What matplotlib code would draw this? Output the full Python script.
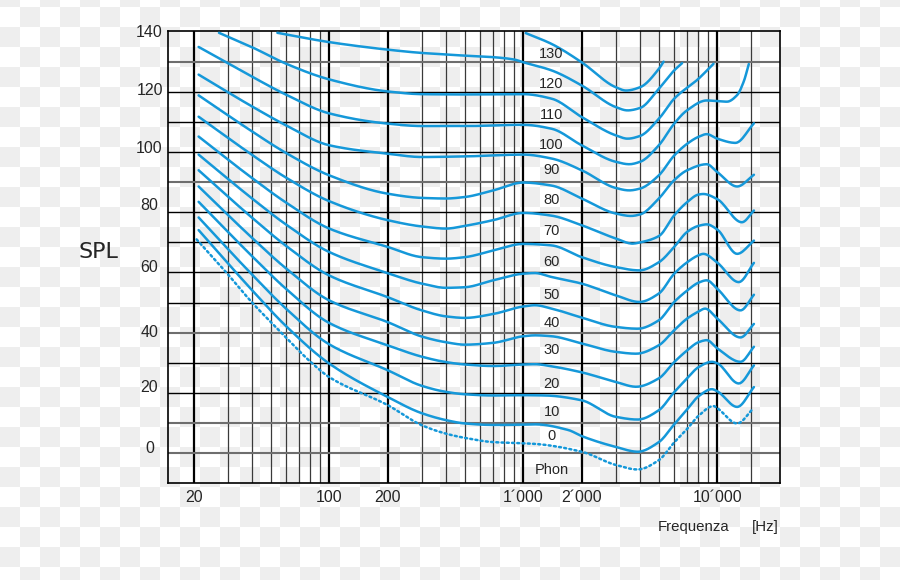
import numpy as np
import matplotlib
matplotlib.use('Agg')
import matplotlib.pyplot as plt
from matplotlib.ticker import NullLocator

plt.rcParams['font.family'] = ['Liberation Sans', 'DejaVu Sans']

# equal loudness contours (frequency in Hz, level in dB)
phon_130_hz = [1030, 1400, 2000, 3000, 3390, 4000, 5000, 5290]
phon_130_db = [139.6, 136.0, 129.9, 121.6, 120.5, 121.6, 127.7, 130.1]

phon_120_hz = [54, 100, 200, 300, 400, 500, 700, 900, 1000, 1400, 2000, 3000, 3450, 4000, 5000, 6000, 6590]
phon_120_db = [139.7, 136.6, 134.1, 133.0, 132.5, 132.1, 131.6, 130.8, 129.9, 127.2, 122.2, 115.0, 113.9, 114.7, 121.1, 127.2, 129.6]

phon_110_hz = [27, 40, 60, 100, 200, 300, 500, 1000, 1400, 2000, 3000, 3450, 4000, 5000, 6000, 8000, 9570]
phon_110_db = [139.7, 134.9, 129.4, 124.2, 120.2, 119.3, 119.2, 119.3, 117.8, 111.7, 105.6, 104.5, 105.4, 111.1, 117.8, 124.4, 129.4]

phon_100_hz = [21.2, 40, 60, 100, 200, 300, 500, 1000, 1400, 2000, 3000, 3520, 4000, 5000, 6000, 6950, 8830, 10000, 11230, 12670, 13700, 14550]
phon_100_db = [135.0, 125.1, 119.1, 112.9, 109.5, 108.7, 108.7, 109.1, 107.8, 102.3, 96.8, 96.0, 96.8, 102.3, 109.5, 113.8, 117.2, 117.0, 116.8, 119.0, 123.5, 129.3]

phon_90_hz = [21.2, 40, 60, 100, 200, 300, 500, 1000, 1400, 2000, 3000, 3520, 4000, 5000, 6000, 7000, 8000, 8830, 10000, 12410, 15460]
phon_90_db = [125.8, 115.2, 108.9, 102.3, 99.5, 98.4, 98.6, 99.2, 97.9, 94.0, 88.1, 87.3, 87.9, 92.3, 98.9, 102.8, 105.1, 106.0, 104.5, 103.1, 109.6]

phon_80_hz = [21.2, 40, 60, 100, 200, 300, 400, 500, 700, 1000, 1400, 2000, 3000, 3590, 4000, 5000, 6000, 7000, 8830, 10000, 12670, 15460]
phon_80_db = [118.9, 106.9, 99.7, 92.3, 86.2, 84.8, 84.6, 85.1, 87.3, 89.9, 88.9, 84.6, 79.6, 78.8, 79.3, 84.6, 90.7, 94.0, 96.0, 93.4, 88.6, 92.5]

phon_70_hz = [21.2, 40, 60, 100, 200, 300, 400, 500, 700, 1000, 1400, 2000, 3000, 3660, 4000, 5000, 6000, 7000, 8000, 8480, 10000, 13400, 15460]
phon_70_db = [111.8, 99.1, 91.5, 83.7, 77.4, 75.3, 74.6, 75.5, 77.4, 79.8, 78.9, 75.7, 71.3, 69.6, 70.0, 72.1, 79.0, 83.4, 85.9, 86.1, 84.4, 76.7, 80.6]

phon_60_hz = [21.2, 40, 60, 100, 200, 300, 400, 500, 700, 1000, 1400, 2000, 3000, 3970, 5000, 6000, 7000, 8000, 8830, 10000, 12670, 15460]
phon_60_db = [105.2, 91.4, 83.2, 74.6, 68.5, 65.1, 64.6, 65.1, 67.3, 69.5, 69.0, 65.1, 61.8, 60.7, 63.4, 68.5, 73.5, 75.5, 76.0, 74.3, 66.2, 70.6]

phon_50_hz = [21.2, 40, 60, 100, 200, 300, 400, 500, 700, 1000, 1150, 1400, 2000, 3000, 3970, 5000, 6000, 7000, 8000, 8480, 10000, 12910, 15460]
phon_50_db = [99.2, 84.6, 75.9, 66.8, 59.8, 56.3, 54.9, 55.1, 57.4, 59.6, 59.8, 58.5, 56.3, 52.4, 50.2, 53.0, 59.6, 63.4, 65.7, 66.2, 63.3, 56.8, 63.2]

phon_40_hz = [21.2, 40, 60, 100, 200, 300, 400, 500, 700, 1000, 1150, 1400, 2000, 3000, 3890, 5000, 6000, 7000, 8000, 8830, 10000, 13180, 15460]
phon_40_db = [94.0, 78.2, 68.8, 59.0, 51.8, 47.4, 45.4, 44.9, 46.2, 48.7, 49.1, 48.0, 45.0, 41.9, 41.3, 44.1, 50.2, 54.0, 56.6, 57.4, 54.6, 47.4, 52.6]

phon_30_hz = [21.2, 40, 60, 100, 200, 300, 400, 500, 700, 1000, 1150, 1400, 2000, 3000, 3820, 5000, 6000, 7000, 8000, 8660, 10000, 13180, 15460]
phon_30_db = [88.6, 71.5, 61.3, 50.7, 43.5, 38.7, 36.8, 36.0, 36.6, 38.8, 39.1, 38.8, 36.4, 33.6, 33.0, 35.8, 40.8, 44.7, 47.0, 48.0, 44.7, 38.4, 42.9]

phon_20_hz = [21.2, 40, 60, 100, 200, 300, 400, 500, 700, 1000, 1150, 1400, 2000, 3000, 3820, 5000, 6000, 7000, 8000, 8830, 10000, 13180, 15460]
phon_20_db = [83.5, 65.4, 54.5, 43.2, 35.8, 32.0, 30.2, 29.4, 28.9, 29.4, 29.5, 28.8, 26.8, 23.6, 22.0, 24.8, 30.2, 34.1, 36.8, 37.5, 34.8, 30.3, 35.3]

phon_10_hz = [21.2, 40, 60, 100, 200, 300, 400, 500, 700, 1000, 1300, 2000, 3000, 3890, 5000, 6000, 7000, 8000, 9390, 10000, 12910, 15460]
phon_10_db = [78.3, 59.3, 47.9, 36.1, 27.5, 22.3, 20.3, 19.5, 19.1, 19.2, 19.1, 17.5, 12.0, 11.1, 14.2, 20.2, 24.8, 28.5, 30.3, 29.8, 23.1, 29.1]

phon_0_hz = [21.2, 40, 60, 100, 200, 300, 400, 500, 700, 1000, 1150, 1710, 2000, 3000, 3890, 5000, 6000, 7000, 8000, 9390, 10000, 12670, 15460]
phon_0_db = [74.1, 54.1, 42.1, 29.7, 18.6, 13.2, 10.9, 9.8, 9.3, 9.4, 9.5, 7.6, 5.6, 2.0, 0.4, 3.6, 9.5, 14.5, 18.8, 21.2, 20.5, 15.3, 21.9]

# hearing threshold (dotted)
threshold_hz = [20.7, 29, 40, 57.6, 79.4, 100, 200, 300, 400, 500, 700, 1000, 1150, 2000, 3000, 3890, 5000, 6000, 7000, 8000, 9570, 10000, 12670, 15350]
threshold_db = [71.0, 60.5, 50.0, 39.5, 30.5, 25.2, 15.9, 9.2, 6.4, 5.0, 3.6, 3.2, 3.0, 0.4, -4.0, -5.5, -2.4, 3.5, 8.0, 12.3, 15.6, 14.9, 9.8, 14.8]

contours = [
    (phon_130_hz, phon_130_db), (phon_120_hz, phon_120_db), (phon_110_hz, phon_110_db),
    (phon_100_hz, phon_100_db), (phon_90_hz, phon_90_db), (phon_80_hz, phon_80_db),
    (phon_70_hz, phon_70_db), (phon_60_hz, phon_60_db), (phon_50_hz, phon_50_db),
    (phon_40_hz, phon_40_db), (phon_30_hz, phon_30_db), (phon_20_hz, phon_20_db),
    (phon_10_hz, phon_10_db), (phon_0_hz, phon_0_db),
]

phon_labels = ['130', '120', '110', '100', '90', '80', '70', '60', '50', '40', '30', '20', '10', '0', 'Phon']
phon_label_db = [132.7, 122.7, 112.5, 102.3, 94.0, 84.0, 73.9, 63.4, 52.4, 43.2, 34.1, 22.9, 13.7, 5.7, -5.7]

y_labels = ['140', '120', '100', '80', '60', '40', '20', '0']
y_label_pos = [140.3, 121.0, 101.8, 82.8, 62.2, 40.5, 22.2, 1.85]

x_ticks = [20, 100, 200, 1000, 2000, 10000]
x_labels = ['20', '100', '200', '1´000', '2´000', '10´000']
thin_lines = [30, 40, 50, 60, 70, 80, 90, 300, 400, 500, 600, 700, 800, 900,
              3000, 4000, 5000, 6000, 7000, 8000, 9000, 15000]
grey_rows = [130, 90, 40, 10, 0]

BLUE = '#1598d9'
TXT = '#262626'


def pchip(x, y, xs):
    # shape preserving cubic through the read points (for a smooth line)
    x = np.asarray(x, float)
    y = np.asarray(y, float)
    h = np.diff(x)
    delta = np.diff(y) / h
    n = len(x)
    d = np.zeros(n)
    for k in range(1, n - 1):
        if delta[k - 1] * delta[k] > 0:
            w1 = 2 * h[k] + h[k - 1]
            w2 = h[k] + 2 * h[k - 1]
            d[k] = (w1 + w2) / (w1 / delta[k - 1] + w2 / delta[k])
    d[0] = delta[0]
    d[-1] = delta[-1]
    i = np.clip(np.searchsorted(x, xs) - 1, 0, n - 2)
    t = (xs - x[i]) / h[i]
    h00 = 2 * t**3 - 3 * t**2 + 1
    h10 = t**3 - 2 * t**2 + t
    h01 = -2 * t**3 + 3 * t**2
    h11 = t**3 - t**2
    return h00 * y[i] + h10 * h[i] * d[i] + h01 * y[i + 1] + h11 * h[i] * d[i + 1]


def smooth(hz, db):
    lx = np.log10(hz)
    xs = np.linspace(lx[0], lx[-1], 400)
    return 10**xs, pchip(lx, db, xs)


fig = plt.figure(figsize=(9, 5.8), dpi=100)

# transparent-background checkerboard seen behind the picture
yy, xx = np.mgrid[0:580, 0:900]
odd = ((xx // 20) + ((yy - 7) // 20)) % 2 == 1
bg = np.where(odd, 238 / 255, 1.0)
fig.figimage(np.dstack([bg, bg, bg]), zorder=-10)

ax = fig.add_axes([168 / 900, 1 - 483 / 580, 612 / 900, 452 / 580])
ax.set_facecolor('none')
ax.set_xscale('log')
ax.set_xlim(14.74, 21070)
ax.set_ylim(-10, 140)

for f in thin_lines:
    ax.axvline(f, color='#3a3a3a', lw=0.9, zorder=1)
for f in x_ticks:
    ax.axvline(f, color='black', lw=1.6, zorder=1)
for v in range(0, 140, 10):
    if v in grey_rows:
        ax.axhline(v, color='#6e6e6e', lw=1.5, zorder=1)
    else:
        ax.axhline(v, color='black', lw=1.0, zorder=1)

for hz, db in contours:
    xs, ys = smooth(hz, db)
    ax.plot(xs, ys, color=BLUE, lw=1.8, zorder=3, solid_capstyle='round')

xs, ys = smooth(threshold_hz, threshold_db)
ax.plot(xs, ys, color=BLUE, lw=1.8, zorder=3, linestyle=(0, (0.8, 1.3)),
        dash_capstyle='round')

for lab, db in zip(phon_labels, phon_label_db):
    ax.text(1400, db, lab, ha='center', va='center', fontsize=10.5, color=TXT, zorder=4)

for side in ['left', 'right', 'top', 'bottom']:
    ax.spines[side].set_color('black')
    ax.spines[side].set_linewidth(1.2)

ax.xaxis.set_minor_locator(NullLocator())
ax.set_xticks(x_ticks, x_labels)
ax.set_yticks(y_label_pos, y_labels)
ax.tick_params(length=0, labelsize=11.5, labelcolor=TXT)
ax.tick_params(axis='x', pad=5)
ax.tick_params(axis='y', pad=13.3)
for lab in ax.get_yticklabels():
    lab.set_horizontalalignment('center')

fig.text(98 / 900, 1 - 252 / 580, 'SPL', fontsize=16, color=TXT,
         ha='center', va='center', family='DejaVu Sans')
fig.text(658 / 900, 1 - 527.5 / 580, 'Frequenza', fontsize=10.8, color=TXT,
         ha='left', va='center')
fig.text(752 / 900, 1 - 527.5 / 580, '[Hz]', fontsize=10.8, color=TXT,
         ha='left', va='center')

fig.savefig('out.png', dpi=100)
